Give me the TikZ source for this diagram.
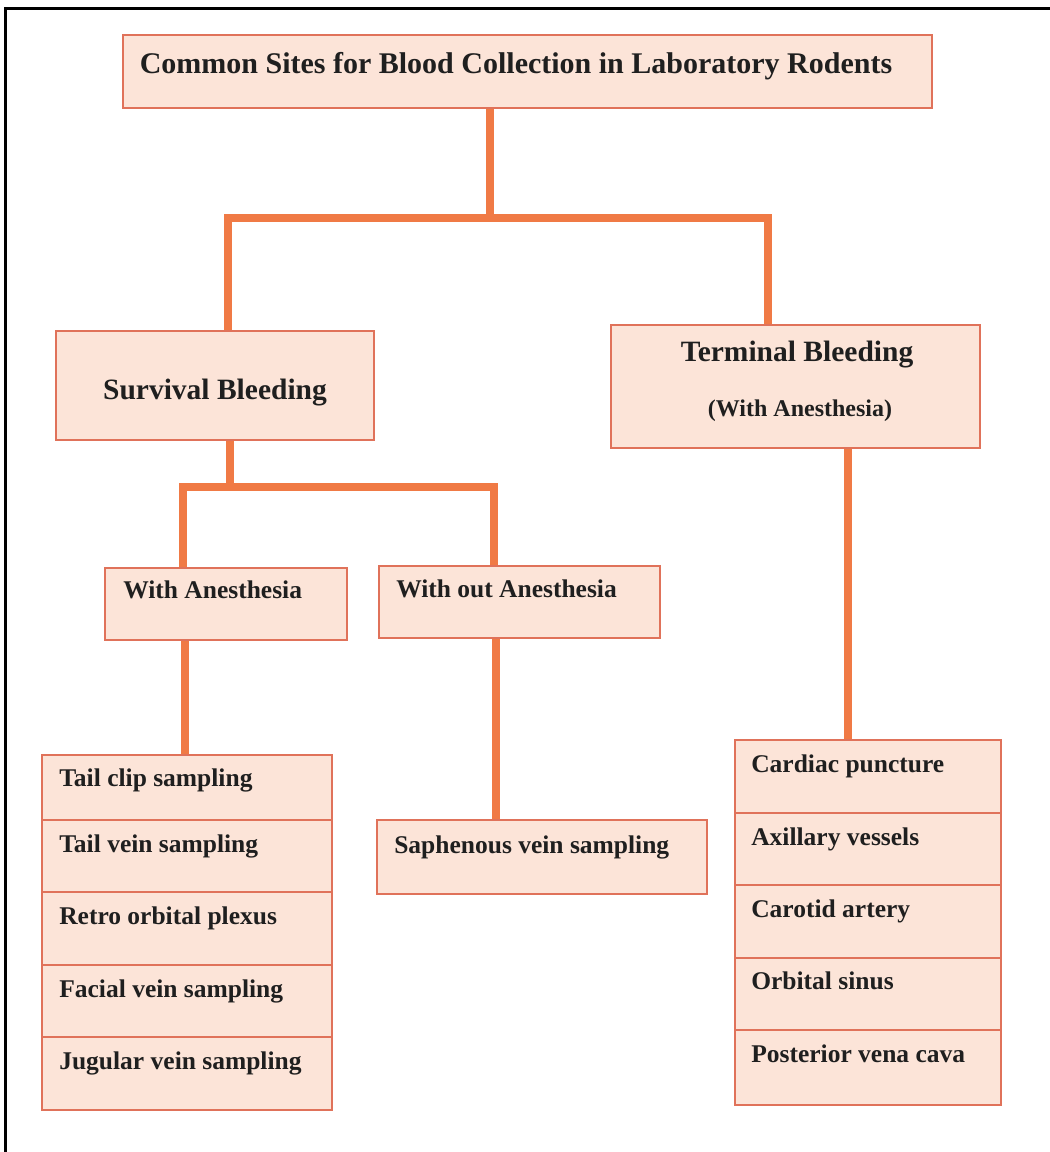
\documentclass[tikz,border=0pt]{standalone}
\usepackage{fontspec}
\setmainfont{Liberation Serif}
\definecolor{boxfill}{HTML}{FCE4D8}
\definecolor{boxline}{HTML}{E0725A}
\definecolor{connline}{HTML}{F07A45}
\tikzset{
  box/.style={draw=boxline, fill=boxfill, line width=1.8pt, inner sep=0pt, rectangle},
  conn/.style={draw=connline, line width=8pt, line join=miter},
  txt/.style={inner sep=0pt, text=black!88, font=\bfseries\fontsize{25.5}{30}\selectfont},
  bigtxt/.style={inner sep=0pt, text=black!88, font=\bfseries\fontsize{29.5}{34}\selectfont},
  frame/.style={draw=black, line width=3pt}
}
\begin{document}
\begin{tikzpicture}[x=1pt,y=-1pt]
\useasboundingbox[fill=white] (0,0) rectangle (1050,1152);
\coordinate (fa) at (5,1152);
\coordinate (fb) at (5,8);
\coordinate (fc) at (1050,8);
\draw[frame] (fa) -- (fb) -- (fc);

% boxes
\node[box, minimum width=809pt, minimum height=73pt] (top) at (527.5,71.5) {};
\node[box, minimum width=318pt, minimum height=109pt] (surv) at (215,385.5) {};
\node[box, minimum width=369pt, minimum height=123pt] (term) at (795.5,386.5) {};
\node[box, minimum width=242pt, minimum height=72pt] (wa) at (226,604) {};
\node[box, minimum width=281pt, minimum height=72pt] (woa) at (519.5,602) {};
\node[box, minimum width=330pt, minimum height=74pt] (saph) at (542,857) {};

\node[box, minimum width=290pt, minimum height=65pt] (l1) at (187,787.5) {};
\node[box, minimum width=290pt, minimum height=72pt] (l2) at (187,856) {};
\node[box, minimum width=290pt, minimum height=73pt] (l3) at (187,928.5) {};
\node[box, minimum width=290pt, minimum height=72pt] (l4) at (187,1001) {};
\node[box, minimum width=290pt, minimum height=73pt] (l5) at (187,1073.5) {};

\node[box, minimum width=266pt, minimum height=73pt] (r1) at (868,776.5) {};
\node[box, minimum width=266pt, minimum height=72pt] (r2) at (868,849) {};
\node[box, minimum width=266pt, minimum height=73pt] (r3) at (868,921.5) {};
\node[box, minimum width=266pt, minimum height=72pt] (r4) at (868,994) {};
\node[box, minimum width=266pt, minimum height=75pt] (r5) at (868,1067.5) {};

% texts
\node[txt, font=\bfseries\fontsize{30}{34}\selectfont, anchor=base] (ttop) at (516,73) {Common Sites for Blood Collection in Laboratory Rodents};
\node[bigtxt, anchor=base] (tsurv) at (215,399) {Survival Bleeding};
\node[bigtxt, anchor=base] (tterm) at (797,361) {Terminal Bleeding};
\node[txt, font=\bfseries\fontsize{24}{28}\selectfont, anchor=base] (tterm2) at (800,416) {(With Anesthesia)};
\node[txt, anchor=base west] (twa) at ([shift={(19,31)}]wa.north west) {With Anesthesia};
\node[txt, anchor=base west] (twoa) at ([shift={(18,32)}]woa.north west) {With out Anesthesia};
\node[txt, anchor=base west] (tsaph) at ([shift={(18,34)}]saph.north west) {Saphenous vein sampling};

\node[txt, anchor=base west] (tl1) at ([shift={(18,32)}]l1.north west) {Tail clip sampling};
\node[txt, anchor=base west] (tl2) at ([shift={(18,33)}]l2.north west) {Tail vein sampling};
\node[txt, anchor=base west] (tl3) at ([shift={(18,33)}]l3.north west) {Retro orbital plexus};
\node[txt, anchor=base west] (tl4) at ([shift={(18,33)}]l4.north west) {Facial vein sampling};
\node[txt, anchor=base west] (tl5) at ([shift={(18,33)}]l5.north west) {Jugular vein sampling};

\node[txt, anchor=base west] (tr1) at ([shift={(17,33)}]r1.north west) {Cardiac puncture};
\node[txt, anchor=base west] (tr2) at ([shift={(17,33)}]r2.north west) {Axillary vessels};
\node[txt, anchor=base west] (tr3) at ([shift={(17,33)}]r3.north west) {Carotid artery};
\node[txt, anchor=base west] (tr4) at ([shift={(17,32)}]r4.north west) {Orbital sinus};
\node[txt, anchor=base west] (tr5) at ([shift={(17,33)}]r5.north west) {Posterior vena cava};

% connectors
\coordinate (jtop) at (490,218);
\coordinate (jL) at (228,218);
\coordinate (jR) at (768,218);
\coordinate (js) at (230,487);
\coordinate (jsL) at (183,487);
\coordinate (jsR) at (494,487);
\coordinate (xwa) at (185,0);
\coordinate (xwoa) at (496,0);
\coordinate (xterm) at (848,0);

\draw[conn] (top.south -| jtop) -- (jtop);
\draw[conn] (surv.north -| jL) -- (jL) -- (jR) -- (term.north -| jR);
\draw[conn] (surv.south -| js) -- (js);
\draw[conn] (wa.north -| jsL) -- (jsL) -- (jsR) -- (woa.north -| jsR);
\draw[conn] (wa.south -| xwa) -- (l1.north -| xwa);
\draw[conn] (woa.south -| xwoa) -- (saph.north -| xwoa);
\draw[conn] (term.south -| xterm) -- (r1.north -| xterm);
\end{tikzpicture}
\end{document}
